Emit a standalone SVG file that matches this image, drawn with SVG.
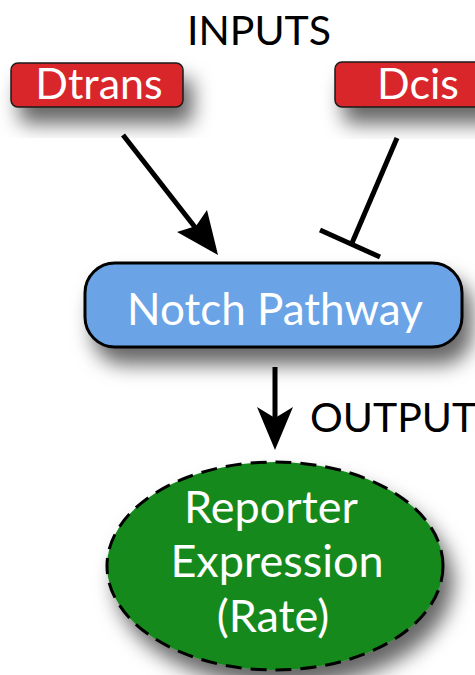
<svg xmlns="http://www.w3.org/2000/svg" width="475" height="675" viewBox="0 0 475 675">
<defs>
<filter id="sh" x="-20%" y="-30%" width="150%" height="200%">
<feDropShadow dx="9" dy="16" stdDeviation="10" flood-color="#000" flood-opacity="0.6"/>
</filter>
<style>
.lbl{font-family:Lato,"Open Sans",sans-serif;fill:#fff;text-anchor:middle}
.hdr{font-family:Lato,"Open Sans",sans-serif;fill:#000}
.edge{stroke:#000;stroke-width:5;fill:none}
</style>
</defs>
<rect width="475" height="675" fill="#fff"/>
<text class="hdr" x="259" y="45" font-size="41" text-anchor="middle">INPUTS</text>
<g id="dtrans">
<rect x="11" y="63" width="172" height="44" rx="7" fill="#d9262c" stroke="#1a1a1a" stroke-width="1.5" filter="url(#sh)"/>
<text class="lbl" x="99" y="99" font-size="43">Dtrans</text>
</g>
<g id="dcis">
<rect x="335" y="62" width="160" height="45" rx="7" fill="#d9262c" stroke="#1a1a1a" stroke-width="1.5" filter="url(#sh)"/>
<text class="lbl" x="418" y="99" font-size="43">Dcis</text>
</g>
<g id="notch">
<rect x="85" y="263" width="377" height="84" rx="30" fill="#6ba4e7" stroke="#000" stroke-width="3" filter="url(#sh)"/>
<text class="lbl" x="275" y="325" font-size="44">Notch Pathway</text>
</g>
<g id="reporter">
<ellipse cx="275" cy="566" rx="168" ry="104" fill="#16891b" stroke="#000" stroke-width="3" stroke-dasharray="16 9" filter="url(#sh)"/>
<text class="lbl" x="271" y="523" font-size="45">Reporter</text>
<text class="lbl" x="277" y="577" font-size="45">Expression</text>
<text class="lbl" x="273" y="632" font-size="45">(Rate)</text>
</g>
<g id="connectors">
<line class="edge" x1="123" y1="135" x2="205" y2="240"/>
<polygon points="218,255 177,232 196,226 207,210" fill="#000"/>
<line class="edge" x1="397" y1="138" x2="352" y2="243"/>
<line class="edge" x1="320" y1="230" x2="380" y2="257"/>
<line class="edge" x1="275" y1="367" x2="275" y2="420"/>
<polygon points="275,450 257,407 275,418 293,407" fill="#000"/>
<text class="hdr" x="310" y="432" font-size="41">OUTPUT</text>
</g>
</svg>
